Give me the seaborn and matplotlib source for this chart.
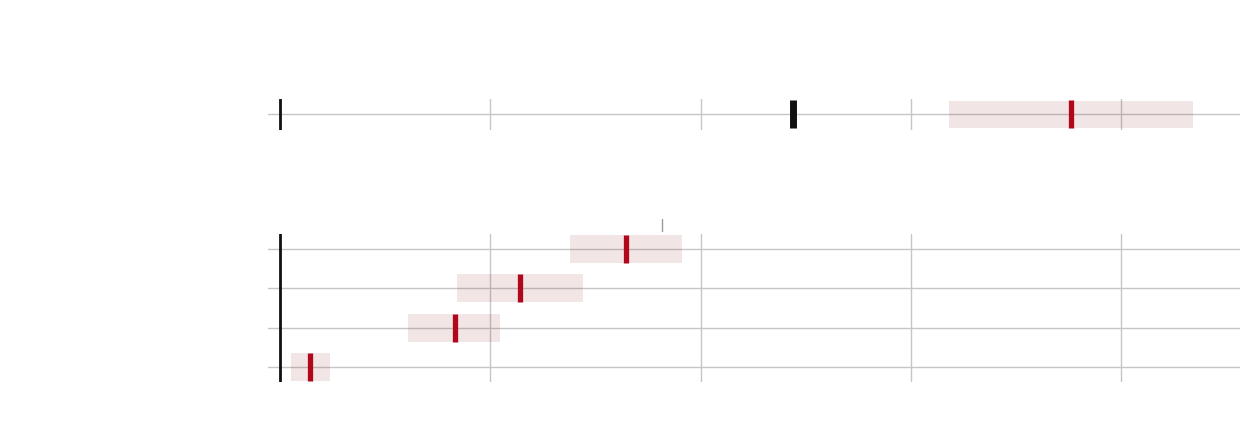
import numpy as np
import pandas as pd
import seaborn as sns
import matplotlib.pyplot as plt

# top panel: one reference row
top_ref = [24.4]
top_est = [37.6]
top_low = [31.8]
top_high = [43.4]

# bottom panel: four rows, top to bottom
rows = [0, 1, 2, 3]
bot_est = [16.45, 11.4, 8.3, 1.45]
bot_low = [13.8, 8.4, 6.1, 0.5]
bot_high = [19.1, 14.4, 10.45, 2.4]
bot_mark = 18.15

x_ticks = [0, 10, 20, 30, 40]

RED = '#B0081A'
BAND = '#8C2A35'
GRID = '#C6C6C6'

sns.set_theme(style='white')
fig = plt.figure(figsize=(12.4, 4.36), dpi=100)
ax_top = fig.add_axes([268/1240, 1-130/436, (1240-268)/1240, 31/436])
ax_bot = fig.add_axes([268/1240, 1-382/436, (1240-268)/1240, 148/436])


def style_axis(ax, yticks, ylim):
    ax.set_xlim(-0.57, 45.65)
    ax.set_ylim(*ylim)
    ax.set_xticks(x_ticks)
    ax.set_yticks(yticks)
    ax.set_xticklabels([])
    ax.set_yticklabels([])
    ax.tick_params(length=0)
    ax.grid(True, color=GRID, linewidth=1)
    ax.set_axisbelow(True)
    for s in ax.spines.values():
        s.set_visible(False)
    ax.set_xlabel('')
    ax.set_ylabel('')
    ax.axvline(0, color='#111111', linewidth=2, zorder=3)


# top panel
top_df = pd.DataFrame({'row': [0], 'est': top_est, 'low': top_low, 'high': top_high, 'ref': top_ref})
ax_top.barh(top_df['row'], top_df['high'] - top_df['low'], left=top_df['low'], height=0.71,
            color=BAND, alpha=0.12, linewidth=0, zorder=2)
sns.scatterplot(data=top_df, x='ref', y='row', marker='|', s=400, linewidth=5,
                color='#111111', ax=ax_top, zorder=4, legend=False)
sns.scatterplot(data=top_df, x='est', y='row', marker='|', s=400, linewidth=3.8,
                color=RED, ax=ax_top, zorder=4, legend=False)
style_axis(ax_top, [0], (0.395, -0.395))

# bottom panel
bot_df = pd.DataFrame({'row': rows, 'est': bot_est, 'low': bot_low, 'high': bot_high})
ax_bot.barh(bot_df['row'], bot_df['high'] - bot_df['low'], left=bot_df['low'], height=0.71,
            color=BAND, alpha=0.12, linewidth=0, zorder=2)
sns.scatterplot(data=bot_df, x='est', y='row', marker='|', s=400, linewidth=3.8,
                color=RED, ax=ax_bot, zorder=4, legend=False)
style_axis(ax_bot, rows, (3.38, -0.38))
ax_bot.plot([bot_mark, bot_mark], [-0.46, -0.76], color='#999999', linewidth=1, clip_on=False)

fig.savefig('out.png', dpi=100)
